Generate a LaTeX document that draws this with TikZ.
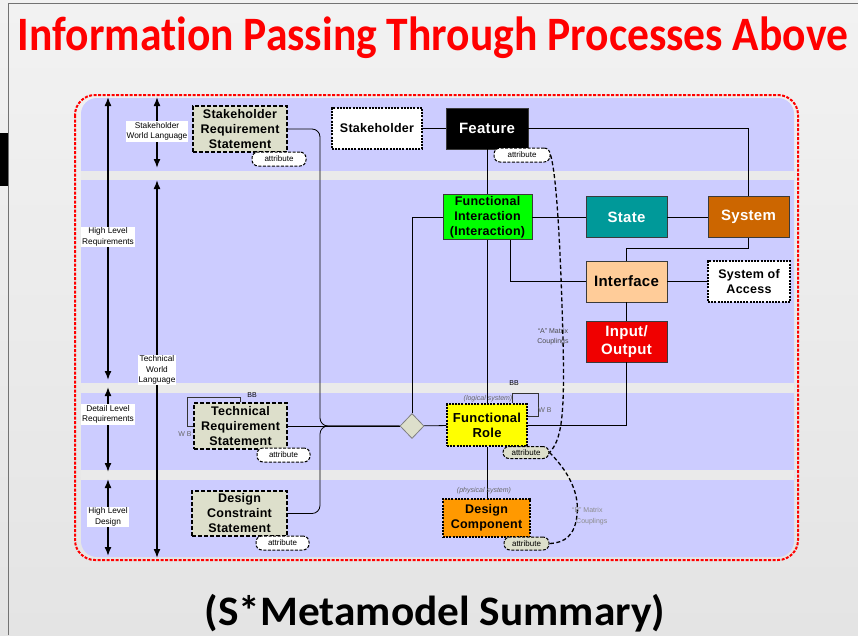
\documentclass[tikz,border=0pt]{standalone}
\usepackage{fontspec}
\setmainfont{Liberation Sans}
\newfontfamily\headfont{Carlito}[Ligatures=NoCommon]
\newfontfamily\boxfont{Liberation Sans}[LetterSpace=2.0]
\usetikzlibrary{arrows.meta,shapes.geometric}

\definecolor{pagetop}{HTML}{F2F2F2}
\definecolor{pagebot}{HTML}{E4E4E4}
\definecolor{gapgrey}{HTML}{EAEAEA}
\definecolor{lav}{HTML}{CCCCFF}
\definecolor{reqfill}{HTML}{DDDFCB}
\definecolor{statecol}{HTML}{009999}
\definecolor{syscol}{HTML}{CC6600}
\definecolor{ifacecol}{HTML}{FFCC99}
\definecolor{iocol}{HTML}{F00000}
\definecolor{fincol}{HTML}{00FF00}
\definecolor{rolecol}{HTML}{FFFF00}
\definecolor{compcol}{HTML}{FF9900}
\definecolor{edgegrey}{HTML}{3A3A3A}

\tikzset{
  base/.style={draw=edgegrey, line width=0.9pt, inner sep=0pt, align=center,
    font=\boxfont\bfseries\fontsize{12.5}{15}\selectfont},
  bigtext/.style={font=\boxfont\bfseries\fontsize{15}{18}\selectfont},
  reqbox/.style={base, draw=black, fill=reqfill, line width=1.1pt, dash pattern=on 4pt off 2pt},
  dotbox/.style={base, draw=black, line width=1.1pt, dash pattern=on 2pt off 1.2pt},
  solidbox/.style={base},
  attr/.style={draw=black, line width=1pt, dash pattern=on 3pt off 1.5pt, fill=white,
    rounded corners=6pt, inner sep=0pt, font=\fontsize{8}{8}\selectfont},
  wire/.style={draw=black, line width=0.8pt},
  thinwire/.style={draw=black!80, line width=0.7pt},
  coupling/.style={draw=black, line width=1.3pt, dash pattern=on 4pt off 2.5pt},
  span/.style={{Latex[length=9pt,width=7pt]}-{Latex[length=9pt,width=7pt]}, line width=1.5pt},
  lbl/.style={fill=white, inner sep=1pt, align=center, font=\fontsize{8.3}{10.5}\selectfont},
  note/.style={inner sep=0pt, align=center, text=black!60, font=\fontsize{7}{10.5}\selectfont},
}

\begin{document}
\begin{tikzpicture}[x=1pt,y=-1pt]
  \useasboundingbox (0,0) rectangle (858,635);
  \shade[top color=pagetop, bottom color=pagebot] (0,0) rectangle (858,635);
  \draw[black!55, line width=1pt] (8,635) -- (8,3) -- (858,3);
  \fill[black] (0,133) rectangle (8,186);

  % headings
  \node[anchor=base, text=red, font=\headfont\bfseries\fontsize{48}{48}\selectfont]
    (title) at (433,50) {\resizebox{830pt}{\height}{Information Passing Through Processes Above}};
  \node[anchor=base, text=black, font=\headfont\bfseries\fontsize{42}{42}\selectfont]
    (subtitle) at (435,625) {\resizebox{460pt}{\height}{(S*Metamodel Summary)}};

  % lavender bands separated by grey strips
  \fill[lav, rounded corners=16pt] (81,98) rectangle (794,557);
  \fill[gapgrey] (81,171) rectangle (794,180);
  \fill[gapgrey] (81,383) rectangle (794,393);
  \fill[gapgrey] (81,470) rectangle (794,480);
  \draw[red, line width=2pt, dash pattern=on 3pt off 1.5pt, rounded corners=20pt]
    (75,95) rectangle (798,560);

  % level spans on the left
  \draw[span] (108,97) -- (108,380);
  \draw[span] (108,387) -- (108,472);
  \draw[span] (108,479) -- (108,556);
  \draw[span] (157,97) -- (157,168);
  \draw[span] (157,180) -- (157,558);
  \node[lbl] (lHLR) at (108,237) {High Level\\Requirements};
  \node[lbl] (lDLR) at (108,414.5) {Detail Level\\Requirements};
  \node[lbl] (lHLD) at (108,517) {High Level\\Design};
  \node[lbl] (lSWL) at (157,131.5) {Stakeholder\\World Language};
  \node[lbl] (lTWL) at (157,370) {Technical\\World\\Language};

  % statement boxes
  \node[reqbox, minimum width=94pt, minimum height=46pt] (srs) at (240,129) {Stakeholder\\Requirement\\Statement};
  \node[reqbox, minimum width=93pt, minimum height=46pt] (trs) at (240.5,426) {Technical\\Requirement\\Statement};
  \node[reqbox, minimum width=95pt, minimum height=45pt] (dcs) at (239.5,513.5) {Design\\Constraint\\Statement};

  % model elements
  \node[dotbox, fill=white, minimum width=90pt, minimum height=41pt] (stk) at (377,128.5) {Stakeholder};
  \node[solidbox, bigtext, fill=black, text=white, minimum width=82pt, minimum height=41pt] (feat) at (487,128.5) {Feature};
  \node[solidbox, fill=fincol, minimum width=89pt, minimum height=45pt] (fi) at (487.5,217) {Functional\\Interaction\\(Interaction)};
  \node[solidbox, bigtext, fill=statecol, text=white, minimum width=81pt, minimum height=41pt] (state) at (626.5,217) {State};
  \node[solidbox, bigtext, fill=syscol, text=white, minimum width=81pt, minimum height=41pt] (sys) at (748.5,217) {System};
  \node[solidbox, bigtext, fill=ifacecol, minimum width=81pt, minimum height=41pt] (iface) at (626.5,281.5) {Interface};
  \node[dotbox, fill=white, minimum width=82pt, minimum height=41pt] (soa) at (749,281.5) {System of\\Access};
  \node[solidbox, bigtext, fill=iocol, text=white, minimum width=81pt, minimum height=41pt] (io) at (626.5,341.5) {Input/\\Output};
  \node[dotbox, fill=rolecol, font=\boxfont\bfseries\fontsize{13}{15}\selectfont, minimum width=80pt, minimum height=42pt] (fr) at (487,425) {Functional\\Role};
  \node[dotbox, fill=compcol, minimum width=87pt, minimum height=38pt] (dc) at (486.5,518) {Design\\Component};
  \node[shape=diamond, draw=black!50, line width=0.8pt, fill=reqfill, minimum width=24pt, minimum height=25pt, inner sep=0pt] (dia) at (412,426) {};

  % attribute tags
  \node[attr, minimum width=54pt, minimum height=14pt] (srsA) at (279,159) {attribute};
  \node[attr, minimum width=56pt, minimum height=14pt] (featA) at (522,155) {attribute};
  \node[attr, minimum width=53pt, minimum height=14pt] (trsA) at (283.5,455) {attribute};
  \node[attr, minimum width=53pt, minimum height=14pt] (dcsA) at (282.5,543) {attribute};
  \node[attr, fill=reqfill, minimum width=46pt, minimum height=12pt] (frA) at (526,452.5) {attribute};
  \node[attr, fill=reqfill, minimum width=45pt, minimum height=13pt] (dcA) at (526.5,543.5) {attribute};

  % connectors
  \draw[wire] (stk) -- (feat);
  \draw[wire] (feat.east) -| (sys.north);
  \draw[wire] (feat.south) -- (feat.south |- fi.north);
  \draw[wire] (fi.south -| feat.south) -- (fr.north -| feat.south);
  \draw[wire] (fr.south -| feat.south) -- (dc.north -| feat.south);
  \draw[wire] (fi) -- (state);
  \draw[wire] (state) -- (sys);
  \draw[wire] (sys.south) -- ++(0,10) -| (iface.north);
  \draw[wire] (fi.south -| 510,0) |- (iface.west);
  \draw[wire] (iface) -- (soa);
  \draw[wire] (iface) -- (io);
  \draw[wire] (io.south) |- (fr.east);
  \draw[wire] (dia.north) |- (fi.west);
  \draw[wire] (dia) -- (fr);
  \draw[wire] (trs) -- (dia);
  \draw[wire, rounded corners=8pt] (srs.east) -- (320,129) -- (320,426) -- (dia.west);
  \draw[wire, rounded corners=8pt] (dcs.east) -- (320,513.5) -- (320,426) -- (dia.west);

  % black-box / white-box loops
  \draw[thinwire] (trs.north) |- (187,397) |- (trs.west);
  \draw[thinwire] (fr.north -| 512,0) |- (538,393) |- (fr.east |- 0,416);
  \node[note, text=black] (bb1) at (252,395) {BB};
  \node[note] (wb1) at (185,434) {W B};
  \node[note, text=black] (bb2) at (514,383) {BB};
  \node[note] (wb2) at (545,410) {W B};
  \node[note, font=\itshape\fontsize{7}{9}\selectfont] (logi) at (488,399) {(logical system)};
  \node[note, font=\itshape\fontsize{7}{9}\selectfont] (phys) at (484,491) {(physical system)};

  % matrix couplings
  \draw[coupling] (featA.east) .. controls (557,175) and (561,260) .. (563,340)
    .. controls (565,420) and (561,440) .. (frA.east);
  \draw[coupling] (frA.east) .. controls (565,468) and (580,490) .. (577,515)
    .. controls (575,535) and (565,543) .. (dcA.east);
  \node[note, text=black!70] (mA) at (553,336.5) {``A'' Matrix\\Couplings};
  \node[note, anchor=west, align=left, text=black!45] (mB) at (572,516) {``B'' Matrix\\\hspace*{4pt}Couplings};
\end{tikzpicture}
\end{document}
